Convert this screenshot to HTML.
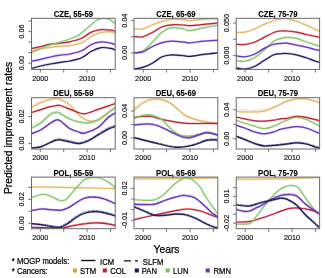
<!DOCTYPE html>
<html><head><meta charset="utf-8"><style>
html,body{margin:0;padding:0;background:#fff;width:325px;height:278px;overflow:hidden}
svg{display:block;font-family:"Liberation Sans",sans-serif;will-change:transform}
</style></head><body>
<svg width="325" height="278" viewBox="0 0 325 278">

<clipPath id="c00"><rect x="31.50" y="18.30" width="83.70" height="51.10"/></clipPath>
<g clip-path="url(#c00)" fill="none" stroke-width="1.5" stroke-linejoin="round" stroke-linecap="round">
<path d="M31.00,51.00 C32.62,50.63 37.47,49.42 40.70,48.80 C43.93,48.18 47.17,47.73 50.40,47.30 C53.63,46.87 56.87,46.48 60.10,46.20 C63.33,45.92 66.20,46.17 69.80,45.60 C73.40,45.03 78.10,44.37 81.70,42.80 C85.30,41.23 88.18,37.92 91.40,36.20 C94.62,34.48 97.77,33.23 101.00,32.50 C104.23,31.77 108.30,31.63 110.80,31.80 C113.30,31.97 115.13,33.22 116.00,33.50" stroke="#D8A53C" stroke-width="2.3" opacity="0.28"/>
<path d="M31.00,51.00 C32.62,50.63 37.47,49.42 40.70,48.80 C43.93,48.18 47.17,47.73 50.40,47.30 C53.63,46.87 56.87,46.48 60.10,46.20 C63.33,45.92 66.20,46.17 69.80,45.60 C73.40,45.03 78.10,44.37 81.70,42.80 C85.30,41.23 88.18,37.92 91.40,36.20 C94.62,34.48 97.77,33.23 101.00,32.50 C104.23,31.77 108.30,31.63 110.80,31.80 C113.30,31.97 115.13,33.22 116.00,33.50" stroke="#E4BC6C" stroke-width="1.2"/>
<path d="M31.00,48.60 C32.62,48.25 37.47,47.23 40.70,46.50 C43.93,45.77 47.17,44.75 50.40,44.20 C53.63,43.65 56.87,43.60 60.10,43.20 C63.33,42.80 66.20,42.62 69.80,41.80 C73.40,40.98 78.10,39.92 81.70,38.30 C85.30,36.68 88.18,33.55 91.40,32.10 C94.62,30.65 97.77,29.92 101.00,29.60 C104.23,29.28 108.30,29.88 110.80,30.20 C113.30,30.52 115.13,31.28 116.00,31.50" stroke="#C41E3A" stroke-width="2.3" opacity="0.28"/>
<path d="M31.00,48.60 C32.62,48.25 37.47,47.23 40.70,46.50 C43.93,45.77 47.17,44.75 50.40,44.20 C53.63,43.65 56.87,43.60 60.10,43.20 C63.33,42.80 66.20,42.62 69.80,41.80 C73.40,40.98 78.10,39.92 81.70,38.30 C85.30,36.68 88.18,33.55 91.40,32.10 C94.62,30.65 97.77,29.92 101.00,29.60 C104.23,29.28 108.30,29.88 110.80,30.20 C113.30,30.52 115.13,31.28 116.00,31.50" stroke="#B82434" stroke-width="1.2"/>
<path d="M31.00,52.90 C32.62,52.15 37.47,49.75 40.70,48.40 C43.93,47.05 47.17,45.87 50.40,44.80 C53.63,43.73 56.87,42.97 60.10,42.00 C63.33,41.03 66.82,40.08 69.80,39.00 C72.78,37.92 75.47,37.00 78.00,35.50 C80.53,34.00 82.77,31.83 85.00,30.00 C87.23,28.17 89.40,26.17 91.40,24.50 C93.40,22.83 95.07,21.02 97.00,20.00 C98.93,18.98 101.17,18.60 103.00,18.40 C104.83,18.20 106.50,18.37 108.00,18.80 C109.50,19.23 110.67,20.13 112.00,21.00 C113.33,21.87 115.33,23.50 116.00,24.00" stroke="#7FBF5F" stroke-width="2.3" opacity="0.28"/>
<path d="M31.00,52.90 C32.62,52.15 37.47,49.75 40.70,48.40 C43.93,47.05 47.17,45.87 50.40,44.80 C53.63,43.73 56.87,42.97 60.10,42.00 C63.33,41.03 66.82,40.08 69.80,39.00 C72.78,37.92 75.47,37.00 78.00,35.50 C80.53,34.00 82.77,31.83 85.00,30.00 C87.23,28.17 89.40,26.17 91.40,24.50 C93.40,22.83 95.07,21.02 97.00,20.00 C98.93,18.98 101.17,18.60 103.00,18.40 C104.83,18.20 106.50,18.37 108.00,18.80 C109.50,19.23 110.67,20.13 112.00,21.00 C113.33,21.87 115.33,23.50 116.00,24.00" stroke="#86C86E" stroke-width="1.2"/>
<path d="M31.00,61.20 C32.62,60.88 37.47,60.00 40.70,59.30 C43.93,58.60 47.17,57.68 50.40,57.00 C53.63,56.32 56.87,55.70 60.10,55.20 C63.33,54.70 66.20,54.73 69.80,54.00 C73.40,53.27 78.10,52.38 81.70,50.80 C85.30,49.22 88.18,46.00 91.40,44.50 C94.62,43.00 97.77,42.02 101.00,41.80 C104.23,41.58 108.30,42.65 110.80,43.20 C113.30,43.75 115.13,44.78 116.00,45.10" stroke="#7030C0" stroke-width="2.3" opacity="0.28"/>
<path d="M31.00,61.20 C32.62,60.88 37.47,60.00 40.70,59.30 C43.93,58.60 47.17,57.68 50.40,57.00 C53.63,56.32 56.87,55.70 60.10,55.20 C63.33,54.70 66.20,54.73 69.80,54.00 C73.40,53.27 78.10,52.38 81.70,50.80 C85.30,49.22 88.18,46.00 91.40,44.50 C94.62,43.00 97.77,42.02 101.00,41.80 C104.23,41.58 108.30,42.65 110.80,43.20 C113.30,43.75 115.13,44.78 116.00,45.10" stroke="#6A36BE" stroke-width="1.2"/>
<path d="M31.00,68.60 C32.62,68.17 37.47,66.77 40.70,66.00 C43.93,65.23 47.17,64.60 50.40,64.00 C53.63,63.40 56.87,62.90 60.10,62.40 C63.33,61.90 66.20,61.77 69.80,61.00 C73.40,60.23 78.10,59.43 81.70,57.80 C85.30,56.17 88.18,52.90 91.40,51.20 C94.62,49.50 97.77,48.07 101.00,47.60 C104.23,47.13 108.30,47.93 110.80,48.40 C113.30,48.87 115.13,50.07 116.00,50.40" stroke="#1A1A6E" stroke-width="2.3" opacity="0.28"/>
<path d="M31.00,68.60 C32.62,68.17 37.47,66.77 40.70,66.00 C43.93,65.23 47.17,64.60 50.40,64.00 C53.63,63.40 56.87,62.90 60.10,62.40 C63.33,61.90 66.20,61.77 69.80,61.00 C73.40,60.23 78.10,59.43 81.70,57.80 C85.30,56.17 88.18,52.90 91.40,51.20 C94.62,49.50 97.77,48.07 101.00,47.60 C104.23,47.13 108.30,47.93 110.80,48.40 C113.30,48.87 115.13,50.07 116.00,50.40" stroke="#1C1C5A" stroke-width="1.2"/>
</g>
<rect x="31.50" y="18.30" width="83.70" height="51.10" fill="none" stroke="#6a6a6a" stroke-width="1"/>
<line x1="40.30" y1="69.40" x2="40.30" y2="72.60" stroke="#555" stroke-width="0.8"/>
<line x1="63.70" y1="69.40" x2="63.70" y2="72.60" stroke="#555" stroke-width="0.8"/>
<line x1="87.10" y1="69.40" x2="87.10" y2="72.60" stroke="#555" stroke-width="0.8"/>
<line x1="110.50" y1="69.40" x2="110.50" y2="72.60" stroke="#555" stroke-width="0.8"/>
<text x="40.30" y="80.70" font-size="7.3" text-anchor="middle" fill="#111" stroke="#111" stroke-width="0.15">2000</text>
<text x="87.10" y="80.70" font-size="7.3" text-anchor="middle" fill="#111" stroke="#111" stroke-width="0.15">2010</text>
<line x1="28.30" y1="21.00" x2="31.50" y2="21.00" stroke="#555" stroke-width="0.8"/>
<line x1="28.30" y1="31.60" x2="31.50" y2="31.60" stroke="#555" stroke-width="0.8"/>
<line x1="28.30" y1="42.10" x2="31.50" y2="42.10" stroke="#555" stroke-width="0.8"/>
<line x1="28.30" y1="52.60" x2="31.50" y2="52.60" stroke="#555" stroke-width="0.8"/>
<line x1="28.30" y1="63.10" x2="31.50" y2="63.10" stroke="#555" stroke-width="0.8"/>
<text x="0" y="0" transform="translate(24.00,31.60) rotate(-90)" font-size="7.3" text-anchor="middle" fill="#111" stroke="#111" stroke-width="0.15">0.06</text>
<text x="0" y="0" transform="translate(24.00,63.10) rotate(-90)" font-size="7.3" text-anchor="middle" fill="#111" stroke="#111" stroke-width="0.15">0.00</text>
<text transform="translate(73.35,16.70) scale(1,1.15)" font-size="7.7" font-weight="bold" text-anchor="middle" fill="#000" stroke="#000" stroke-width="0.12">CZE, 55-59</text>
<clipPath id="c01"><rect x="134.00" y="18.30" width="83.80" height="51.10"/></clipPath>
<g clip-path="url(#c01)" fill="none" stroke-width="1.5" stroke-linejoin="round" stroke-linecap="round">
<path d="M133.60,28.60 C135.12,28.67 139.57,29.63 142.70,29.00 C145.83,28.37 149.17,26.08 152.40,24.80 C155.63,23.52 158.87,22.22 162.10,21.30 C165.33,20.38 168.03,19.53 171.80,19.30 C175.57,19.07 181.75,19.70 184.70,19.90 C187.65,20.10 186.28,20.60 189.50,20.50 C192.72,20.40 199.25,19.62 204.00,19.30 C208.75,18.98 215.67,18.72 218.00,18.60" stroke="#D8A53C" stroke-width="2.3" opacity="0.28"/>
<path d="M133.60,28.60 C135.12,28.67 139.57,29.63 142.70,29.00 C145.83,28.37 149.17,26.08 152.40,24.80 C155.63,23.52 158.87,22.22 162.10,21.30 C165.33,20.38 168.03,19.53 171.80,19.30 C175.57,19.07 181.75,19.70 184.70,19.90 C187.65,20.10 186.28,20.60 189.50,20.50 C192.72,20.40 199.25,19.62 204.00,19.30 C208.75,18.98 215.67,18.72 218.00,18.60" stroke="#E4BC6C" stroke-width="1.2"/>
<path d="M133.60,36.40 C135.12,36.47 139.57,37.45 142.70,36.80 C145.83,36.15 149.17,34.18 152.40,32.50 C155.63,30.82 158.87,27.98 162.10,26.70 C165.33,25.42 168.03,25.07 171.80,24.80 C175.57,24.53 181.75,24.95 184.70,25.10 C187.65,25.25 186.28,25.82 189.50,25.70 C192.72,25.58 199.25,24.88 204.00,24.40 C208.75,23.92 215.67,23.07 218.00,22.80" stroke="#C41E3A" stroke-width="2.3" opacity="0.28"/>
<path d="M133.60,36.40 C135.12,36.47 139.57,37.45 142.70,36.80 C145.83,36.15 149.17,34.18 152.40,32.50 C155.63,30.82 158.87,27.98 162.10,26.70 C165.33,25.42 168.03,25.07 171.80,24.80 C175.57,24.53 181.75,24.95 184.70,25.10 C187.65,25.25 186.28,25.82 189.50,25.70 C192.72,25.58 199.25,24.88 204.00,24.40 C208.75,23.92 215.67,23.07 218.00,22.80" stroke="#B82434" stroke-width="1.2"/>
<path d="M133.60,53.00 C135.12,52.67 139.57,52.80 142.70,51.00 C145.83,49.20 149.17,45.35 152.40,42.20 C155.63,39.05 158.87,34.52 162.10,32.10 C165.33,29.68 168.03,28.22 171.80,27.70 C175.57,27.18 181.75,28.52 184.70,29.00 C187.65,29.48 186.28,30.82 189.50,30.60 C192.72,30.38 199.25,28.62 204.00,27.70 C208.75,26.78 215.67,25.53 218.00,25.10" stroke="#7FBF5F" stroke-width="2.3" opacity="0.28"/>
<path d="M133.60,53.00 C135.12,52.67 139.57,52.80 142.70,51.00 C145.83,49.20 149.17,45.35 152.40,42.20 C155.63,39.05 158.87,34.52 162.10,32.10 C165.33,29.68 168.03,28.22 171.80,27.70 C175.57,27.18 181.75,28.52 184.70,29.00 C187.65,29.48 186.28,30.82 189.50,30.60 C192.72,30.38 199.25,28.62 204.00,27.70 C208.75,26.78 215.67,25.53 218.00,25.10" stroke="#86C86E" stroke-width="1.2"/>
<path d="M133.60,52.90 C135.12,52.73 139.57,52.97 142.70,51.90 C145.83,50.83 149.17,48.05 152.40,46.50 C155.63,44.95 158.87,43.48 162.10,42.60 C165.33,41.72 168.03,41.27 171.80,41.20 C175.57,41.13 181.75,41.93 184.70,42.20 C187.65,42.47 186.28,42.97 189.50,42.80 C192.72,42.63 199.25,41.62 204.00,41.20 C208.75,40.78 215.67,40.45 218.00,40.30" stroke="#7030C0" stroke-width="2.3" opacity="0.28"/>
<path d="M133.60,52.90 C135.12,52.73 139.57,52.97 142.70,51.90 C145.83,50.83 149.17,48.05 152.40,46.50 C155.63,44.95 158.87,43.48 162.10,42.60 C165.33,41.72 168.03,41.27 171.80,41.20 C175.57,41.13 181.75,41.93 184.70,42.20 C187.65,42.47 186.28,42.97 189.50,42.80 C192.72,42.63 199.25,41.62 204.00,41.20 C208.75,40.78 215.67,40.45 218.00,40.30" stroke="#6A36BE" stroke-width="1.2"/>
<path d="M133.60,69.00 C135.12,68.73 139.57,68.37 142.70,67.40 C145.83,66.43 149.17,64.97 152.40,63.20 C155.63,61.43 158.87,58.20 162.10,56.80 C165.33,55.40 168.03,54.97 171.80,54.80 C175.57,54.63 181.75,55.53 184.70,55.80 C187.65,56.07 186.28,56.63 189.50,56.40 C192.72,56.17 199.25,54.98 204.00,54.40 C208.75,53.82 215.67,53.15 218.00,52.90" stroke="#1A1A6E" stroke-width="2.3" opacity="0.28"/>
<path d="M133.60,69.00 C135.12,68.73 139.57,68.37 142.70,67.40 C145.83,66.43 149.17,64.97 152.40,63.20 C155.63,61.43 158.87,58.20 162.10,56.80 C165.33,55.40 168.03,54.97 171.80,54.80 C175.57,54.63 181.75,55.53 184.70,55.80 C187.65,56.07 186.28,56.63 189.50,56.40 C192.72,56.17 199.25,54.98 204.00,54.40 C208.75,53.82 215.67,53.15 218.00,52.90" stroke="#1C1C5A" stroke-width="1.2"/>
</g>
<rect x="134.00" y="18.30" width="83.80" height="51.10" fill="none" stroke="#6a6a6a" stroke-width="1"/>
<line x1="143.20" y1="69.40" x2="143.20" y2="72.60" stroke="#555" stroke-width="0.8"/>
<line x1="166.60" y1="69.40" x2="166.60" y2="72.60" stroke="#555" stroke-width="0.8"/>
<line x1="190.00" y1="69.40" x2="190.00" y2="72.60" stroke="#555" stroke-width="0.8"/>
<line x1="213.40" y1="69.40" x2="213.40" y2="72.60" stroke="#555" stroke-width="0.8"/>
<text x="143.20" y="80.70" font-size="7.3" text-anchor="middle" fill="#111" stroke="#111" stroke-width="0.15">2000</text>
<text x="190.00" y="80.70" font-size="7.3" text-anchor="middle" fill="#111" stroke="#111" stroke-width="0.15">2010</text>
<line x1="130.80" y1="20.70" x2="134.00" y2="20.70" stroke="#555" stroke-width="0.8"/>
<line x1="130.80" y1="36.80" x2="134.00" y2="36.80" stroke="#555" stroke-width="0.8"/>
<line x1="130.80" y1="52.90" x2="134.00" y2="52.90" stroke="#555" stroke-width="0.8"/>
<text x="0" y="0" transform="translate(126.50,20.70) rotate(-90)" font-size="7.3" text-anchor="middle" fill="#111" stroke="#111" stroke-width="0.15">0.04</text>
<text x="0" y="0" transform="translate(126.50,52.90) rotate(-90)" font-size="7.3" text-anchor="middle" fill="#111" stroke="#111" stroke-width="0.15">0.00</text>
<text transform="translate(175.90,16.70) scale(1,1.15)" font-size="7.7" font-weight="bold" text-anchor="middle" fill="#000" stroke="#000" stroke-width="0.12">CZE, 65-69</text>
<clipPath id="c02"><rect x="236.20" y="18.30" width="83.40" height="51.10"/></clipPath>
<g clip-path="url(#c02)" fill="none" stroke-width="1.5" stroke-linejoin="round" stroke-linecap="round">
<path d="M236.00,32.50 C237.45,32.43 241.63,32.68 244.70,32.10 C247.77,31.52 251.17,30.28 254.40,29.00 C257.63,27.72 260.87,25.82 264.10,24.40 C267.33,22.98 271.15,21.42 273.80,20.50 C276.45,19.58 277.85,19.22 280.00,18.90 C282.15,18.58 283.97,18.20 286.70,18.60 C289.43,19.00 293.17,20.22 296.40,21.30 C299.63,22.38 302.87,23.72 306.10,25.10 C309.33,26.48 313.48,28.53 315.80,29.60 C318.12,30.67 319.30,31.18 320.00,31.50" stroke="#D8A53C" stroke-width="2.3" opacity="0.28"/>
<path d="M236.00,32.50 C237.45,32.43 241.63,32.68 244.70,32.10 C247.77,31.52 251.17,30.28 254.40,29.00 C257.63,27.72 260.87,25.82 264.10,24.40 C267.33,22.98 271.15,21.42 273.80,20.50 C276.45,19.58 277.85,19.22 280.00,18.90 C282.15,18.58 283.97,18.20 286.70,18.60 C289.43,19.00 293.17,20.22 296.40,21.30 C299.63,22.38 302.87,23.72 306.10,25.10 C309.33,26.48 313.48,28.53 315.80,29.60 C318.12,30.67 319.30,31.18 320.00,31.50" stroke="#E4BC6C" stroke-width="1.2"/>
<path d="M236.00,44.20 C237.45,44.25 241.63,44.83 244.70,44.50 C247.77,44.17 251.17,43.38 254.40,42.20 C257.63,41.02 260.87,39.02 264.10,37.40 C267.33,35.78 271.15,33.57 273.80,32.50 C276.45,31.43 277.85,31.25 280.00,31.00 C282.15,30.75 283.97,30.82 286.70,31.00 C289.43,31.18 293.17,31.52 296.40,32.10 C299.63,32.68 302.87,33.78 306.10,34.50 C309.33,35.22 313.48,35.92 315.80,36.40 C318.12,36.88 319.30,37.23 320.00,37.40" stroke="#C41E3A" stroke-width="2.3" opacity="0.28"/>
<path d="M236.00,44.20 C237.45,44.25 241.63,44.83 244.70,44.50 C247.77,44.17 251.17,43.38 254.40,42.20 C257.63,41.02 260.87,39.02 264.10,37.40 C267.33,35.78 271.15,33.57 273.80,32.50 C276.45,31.43 277.85,31.25 280.00,31.00 C282.15,30.75 283.97,30.82 286.70,31.00 C289.43,31.18 293.17,31.52 296.40,32.10 C299.63,32.68 302.87,33.78 306.10,34.50 C309.33,35.22 313.48,35.92 315.80,36.40 C318.12,36.88 319.30,37.23 320.00,37.40" stroke="#B82434" stroke-width="1.2"/>
<path d="M236.00,60.60 C237.45,60.70 241.63,61.68 244.70,61.20 C247.77,60.72 251.17,59.57 254.40,57.70 C257.63,55.83 260.87,52.75 264.10,50.00 C267.33,47.25 271.15,43.08 273.80,41.20 C276.45,39.32 277.85,39.33 280.00,38.70 C282.15,38.07 283.97,37.47 286.70,37.40 C289.43,37.33 293.17,37.57 296.40,38.30 C299.63,39.03 302.87,40.67 306.10,41.80 C309.33,42.93 313.48,44.38 315.80,45.10 C318.12,45.82 319.30,45.93 320.00,46.10" stroke="#7FBF5F" stroke-width="2.3" opacity="0.28"/>
<path d="M236.00,60.60 C237.45,60.70 241.63,61.68 244.70,61.20 C247.77,60.72 251.17,59.57 254.40,57.70 C257.63,55.83 260.87,52.75 264.10,50.00 C267.33,47.25 271.15,43.08 273.80,41.20 C276.45,39.32 277.85,39.33 280.00,38.70 C282.15,38.07 283.97,37.47 286.70,37.40 C289.43,37.33 293.17,37.57 296.40,38.30 C299.63,39.03 302.87,40.67 306.10,41.80 C309.33,42.93 313.48,44.38 315.80,45.10 C318.12,45.82 319.30,45.93 320.00,46.10" stroke="#86C86E" stroke-width="1.2"/>
<path d="M236.00,55.80 C237.45,55.97 241.63,57.07 244.70,56.80 C247.77,56.53 251.17,55.60 254.40,54.20 C257.63,52.80 260.87,50.07 264.10,48.40 C267.33,46.73 271.15,45.02 273.80,44.20 C276.45,43.38 277.85,43.67 280.00,43.50 C282.15,43.33 283.97,42.93 286.70,43.20 C289.43,43.47 293.17,44.45 296.40,45.10 C299.63,45.75 302.87,46.35 306.10,47.10 C309.33,47.85 313.48,49.05 315.80,49.60 C318.12,50.15 319.30,50.27 320.00,50.40" stroke="#7030C0" stroke-width="2.3" opacity="0.28"/>
<path d="M236.00,55.80 C237.45,55.97 241.63,57.07 244.70,56.80 C247.77,56.53 251.17,55.60 254.40,54.20 C257.63,52.80 260.87,50.07 264.10,48.40 C267.33,46.73 271.15,45.02 273.80,44.20 C276.45,43.38 277.85,43.67 280.00,43.50 C282.15,43.33 283.97,42.93 286.70,43.20 C289.43,43.47 293.17,44.45 296.40,45.10 C299.63,45.75 302.87,46.35 306.10,47.10 C309.33,47.85 313.48,49.05 315.80,49.60 C318.12,50.15 319.30,50.27 320.00,50.40" stroke="#6A36BE" stroke-width="1.2"/>
<path d="M236.00,67.80 C237.45,68.00 241.63,69.22 244.70,69.00 C247.77,68.78 251.17,67.90 254.40,66.50 C257.63,65.10 260.87,62.55 264.10,60.60 C267.33,58.65 271.15,55.93 273.80,54.80 C276.45,53.67 277.85,54.02 280.00,53.80 C282.15,53.58 283.97,53.33 286.70,53.50 C289.43,53.67 293.17,54.10 296.40,54.80 C299.63,55.50 302.87,56.63 306.10,57.70 C309.33,58.77 313.48,60.38 315.80,61.20 C318.12,62.02 319.30,62.37 320.00,62.60" stroke="#1A1A6E" stroke-width="2.3" opacity="0.28"/>
<path d="M236.00,67.80 C237.45,68.00 241.63,69.22 244.70,69.00 C247.77,68.78 251.17,67.90 254.40,66.50 C257.63,65.10 260.87,62.55 264.10,60.60 C267.33,58.65 271.15,55.93 273.80,54.80 C276.45,53.67 277.85,54.02 280.00,53.80 C282.15,53.58 283.97,53.33 286.70,53.50 C289.43,53.67 293.17,54.10 296.40,54.80 C299.63,55.50 302.87,56.63 306.10,57.70 C309.33,58.77 313.48,60.38 315.80,61.20 C318.12,62.02 319.30,62.37 320.00,62.60" stroke="#1C1C5A" stroke-width="1.2"/>
</g>
<rect x="236.20" y="18.30" width="83.40" height="51.10" fill="none" stroke="#6a6a6a" stroke-width="1"/>
<line x1="245.20" y1="69.40" x2="245.20" y2="72.60" stroke="#555" stroke-width="0.8"/>
<line x1="268.60" y1="69.40" x2="268.60" y2="72.60" stroke="#555" stroke-width="0.8"/>
<line x1="292.00" y1="69.40" x2="292.00" y2="72.60" stroke="#555" stroke-width="0.8"/>
<line x1="315.40" y1="69.40" x2="315.40" y2="72.60" stroke="#555" stroke-width="0.8"/>
<text x="245.20" y="80.70" font-size="7.3" text-anchor="middle" fill="#111" stroke="#111" stroke-width="0.15">2000</text>
<text x="292.00" y="80.70" font-size="7.3" text-anchor="middle" fill="#111" stroke="#111" stroke-width="0.15">2010</text>
<line x1="233.00" y1="23.00" x2="236.20" y2="23.00" stroke="#555" stroke-width="0.8"/>
<line x1="233.00" y1="39.30" x2="236.20" y2="39.30" stroke="#555" stroke-width="0.8"/>
<line x1="233.00" y1="55.60" x2="236.20" y2="55.60" stroke="#555" stroke-width="0.8"/>
<text x="0" y="0" transform="translate(228.70,23.00) rotate(-90)" font-size="7.3" text-anchor="middle" fill="#111" stroke="#111" stroke-width="0.15">0.050</text>
<text x="0" y="0" transform="translate(228.70,55.60) rotate(-90)" font-size="7.3" text-anchor="middle" fill="#111" stroke="#111" stroke-width="0.15">0.000</text>
<text transform="translate(277.90,16.70) scale(1,1.15)" font-size="7.7" font-weight="bold" text-anchor="middle" fill="#000" stroke="#000" stroke-width="0.12">CZE, 75-79</text>
<clipPath id="c10"><rect x="31.50" y="97.70" width="83.70" height="51.30"/></clipPath>
<g clip-path="url(#c10)" fill="none" stroke-width="1.5" stroke-linejoin="round" stroke-linecap="round">
<path d="M31.50,107.60 C33.03,106.80 37.55,104.15 40.70,102.80 C43.85,101.45 47.82,100.25 50.40,99.50 C52.98,98.75 54.58,98.30 56.20,98.30 C57.82,98.30 57.88,98.45 60.10,99.50 C62.32,100.55 66.35,102.00 69.50,104.60 C72.65,107.20 75.82,112.40 79.00,115.10 C82.18,117.80 85.42,120.00 88.60,120.80 C91.78,121.60 94.93,121.17 98.10,119.90 C101.27,118.63 104.70,115.35 107.60,113.20 C110.50,111.05 114.18,108.03 115.50,107.00" stroke="#D8A53C" stroke-width="2.3" opacity="0.28"/>
<path d="M31.50,107.60 C33.03,106.80 37.55,104.15 40.70,102.80 C43.85,101.45 47.82,100.25 50.40,99.50 C52.98,98.75 54.58,98.30 56.20,98.30 C57.82,98.30 57.88,98.45 60.10,99.50 C62.32,100.55 66.35,102.00 69.50,104.60 C72.65,107.20 75.82,112.40 79.00,115.10 C82.18,117.80 85.42,120.00 88.60,120.80 C91.78,121.60 94.93,121.17 98.10,119.90 C101.27,118.63 104.70,115.35 107.60,113.20 C110.50,111.05 114.18,108.03 115.50,107.00" stroke="#E4BC6C" stroke-width="1.2"/>
<path d="M31.50,105.62 C33.03,104.88 37.55,102.42 40.70,101.20 C43.85,99.98 47.82,98.95 50.40,98.30 C52.98,97.66 54.58,97.28 56.20,97.34 C57.82,97.41 57.88,97.55 60.10,98.70 C62.32,99.85 66.35,101.50 69.50,104.24 C72.65,106.99 75.82,112.34 79.00,115.19 C82.18,118.04 85.42,120.48 88.60,121.33 C91.78,122.19 94.93,121.64 98.10,120.31 C101.27,118.99 104.70,115.61 107.60,113.39 C110.50,111.18 114.18,108.08 115.50,107.01" stroke="#E4BC6C" stroke-width="0.9" stroke-dasharray="3,1.6" opacity="0.6"/>
<path d="M31.50,112.50 C33.03,112.02 37.55,110.57 40.70,109.60 C43.85,108.63 47.82,107.35 50.40,106.70 C52.98,106.05 54.58,105.90 56.20,105.70 C57.82,105.50 56.93,104.57 60.10,105.50 C63.27,106.43 71.08,109.92 75.20,111.30 C79.32,112.68 80.98,114.12 84.80,113.80 C88.62,113.48 92.98,111.12 98.10,109.40 C103.22,107.68 112.60,104.48 115.50,103.50" stroke="#C41E3A" stroke-width="2.3" opacity="0.28"/>
<path d="M31.50,112.50 C33.03,112.02 37.55,110.57 40.70,109.60 C43.85,108.63 47.82,107.35 50.40,106.70 C52.98,106.05 54.58,105.90 56.20,105.70 C57.82,105.50 56.93,104.57 60.10,105.50 C63.27,106.43 71.08,109.92 75.20,111.30 C79.32,112.68 80.98,114.12 84.80,113.80 C88.62,113.48 92.98,111.12 98.10,109.40 C103.22,107.68 112.60,104.48 115.50,103.50" stroke="#B82434" stroke-width="1.2"/>
<path d="M31.50,128.00 C33.03,127.20 37.55,125.47 40.70,123.20 C43.85,120.93 47.82,116.18 50.40,114.40 C52.98,112.62 54.58,112.65 56.20,112.50 C57.82,112.35 57.88,112.42 60.10,113.50 C62.32,114.58 66.35,117.58 69.50,119.00 C72.65,120.42 75.82,121.33 79.00,122.00 C82.18,122.67 85.43,123.33 88.60,123.00 C91.77,122.67 94.83,121.67 98.00,120.00 C101.17,118.33 104.68,115.00 107.60,113.00 C110.52,111.00 114.18,108.83 115.50,108.00" stroke="#7FBF5F" stroke-width="2.3" opacity="0.28"/>
<path d="M31.50,128.00 C33.03,127.20 37.55,125.47 40.70,123.20 C43.85,120.93 47.82,116.18 50.40,114.40 C52.98,112.62 54.58,112.65 56.20,112.50 C57.82,112.35 57.88,112.42 60.10,113.50 C62.32,114.58 66.35,117.58 69.50,119.00 C72.65,120.42 75.82,121.33 79.00,122.00 C82.18,122.67 85.43,123.33 88.60,123.00 C91.77,122.67 94.83,121.67 98.00,120.00 C101.17,118.33 104.68,115.00 107.60,113.00 C110.52,111.00 114.18,108.83 115.50,108.00" stroke="#86C86E" stroke-width="1.2"/>
<path d="M31.50,125.82 C33.03,125.08 37.55,123.54 40.70,121.40 C43.85,119.27 47.82,114.68 50.40,113.00 C52.98,111.33 54.58,111.43 56.20,111.34 C57.82,111.26 57.88,111.36 60.10,112.50 C62.32,113.64 66.35,116.70 69.50,118.17 C72.65,119.64 75.82,120.62 79.00,121.34 C82.18,122.06 85.43,122.79 88.60,122.51 C91.77,122.23 94.83,121.29 98.00,119.68 C101.17,118.07 104.68,114.80 107.60,112.85 C110.52,110.90 114.18,108.80 115.50,107.99" stroke="#86C86E" stroke-width="0.9" stroke-dasharray="3,1.6" opacity="0.6"/>
<path d="M31.50,133.80 C33.03,133.17 37.55,131.77 40.70,130.00 C43.85,128.23 47.82,124.83 50.40,123.20 C52.98,121.57 54.58,120.60 56.20,120.20 C57.82,119.80 57.88,119.43 60.10,120.80 C62.32,122.17 66.35,126.50 69.50,128.40 C72.65,130.30 76.45,131.40 79.00,132.20 C81.55,133.00 81.62,133.98 84.80,133.20 C87.98,132.42 94.30,130.03 98.10,127.50 C101.90,124.97 104.70,120.42 107.60,118.00 C110.50,115.58 114.18,113.83 115.50,113.00" stroke="#7030C0" stroke-width="2.3" opacity="0.28"/>
<path d="M31.50,133.80 C33.03,133.17 37.55,131.77 40.70,130.00 C43.85,128.23 47.82,124.83 50.40,123.20 C52.98,121.57 54.58,120.60 56.20,120.20 C57.82,119.80 57.88,119.43 60.10,120.80 C62.32,122.17 66.35,126.50 69.50,128.40 C72.65,130.30 76.45,131.40 79.00,132.20 C81.55,133.00 81.62,133.98 84.80,133.20 C87.98,132.42 94.30,130.03 98.10,127.50 C101.90,124.97 104.70,120.42 107.60,118.00 C110.50,115.58 114.18,113.83 115.50,113.00" stroke="#6A36BE" stroke-width="1.2"/>
<path d="M31.50,133.20 C33.03,132.57 37.55,131.17 40.70,129.40 C43.85,127.63 47.82,124.23 50.40,122.60 C52.98,120.97 54.58,120.00 56.20,119.60 C57.82,119.20 57.88,118.83 60.10,120.20 C62.32,121.57 66.35,125.90 69.50,127.80 C72.65,129.70 76.45,130.80 79.00,131.60 C81.55,132.40 81.62,133.38 84.80,132.60 C87.98,131.82 94.30,129.43 98.10,126.90 C101.90,124.37 104.70,119.82 107.60,117.40 C110.50,114.98 114.18,113.23 115.50,112.40" stroke="#6A36BE" stroke-width="0.9" stroke-dasharray="3,1.6" opacity="0.6"/>
<path d="M31.50,148.00 C33.03,147.80 37.55,147.72 40.70,146.80 C43.85,145.88 47.82,143.60 50.40,142.50 C52.98,141.40 54.58,140.63 56.20,140.20 C57.82,139.77 57.88,139.63 60.10,139.90 C62.32,140.17 66.35,141.17 69.50,141.80 C72.65,142.43 75.82,143.87 79.00,143.70 C82.18,143.53 85.42,142.23 88.60,140.80 C91.78,139.37 94.93,137.00 98.10,135.10 C101.27,133.20 104.70,130.87 107.60,129.40 C110.50,127.93 114.18,126.82 115.50,126.30" stroke="#1A1A6E" stroke-width="2.3" opacity="0.28"/>
<path d="M31.50,148.00 C33.03,147.80 37.55,147.72 40.70,146.80 C43.85,145.88 47.82,143.60 50.40,142.50 C52.98,141.40 54.58,140.63 56.20,140.20 C57.82,139.77 57.88,139.63 60.10,139.90 C62.32,140.17 66.35,141.17 69.50,141.80 C72.65,142.43 75.82,143.87 79.00,143.70 C82.18,143.53 85.42,142.23 88.60,140.80 C91.78,139.37 94.93,137.00 98.10,135.10 C101.27,133.20 104.70,130.87 107.60,129.40 C110.50,127.93 114.18,126.82 115.50,126.30" stroke="#1C1C5A" stroke-width="1.2"/>
<path d="M31.50,147.98 C33.03,147.73 37.55,147.50 40.70,146.48 C43.85,145.46 47.82,143.04 50.40,141.85 C52.98,140.67 54.58,139.85 56.20,139.36 C57.82,138.87 57.88,138.74 60.10,138.93 C62.32,139.12 66.35,139.94 69.50,140.52 C72.65,141.09 75.82,142.57 79.00,142.40 C82.18,142.23 85.42,140.93 88.60,139.50 C91.78,138.07 94.93,135.70 98.10,133.80 C101.27,131.90 104.70,129.57 107.60,128.10 C110.50,126.63 114.18,125.52 115.50,125.00" stroke="#1C1C5A" stroke-width="0.9" stroke-dasharray="3,1.6" opacity="0.6"/>
</g>
<rect x="31.50" y="97.70" width="83.70" height="51.30" fill="none" stroke="#6a6a6a" stroke-width="1"/>
<line x1="40.30" y1="149.00" x2="40.30" y2="152.20" stroke="#555" stroke-width="0.8"/>
<line x1="63.70" y1="149.00" x2="63.70" y2="152.20" stroke="#555" stroke-width="0.8"/>
<line x1="87.10" y1="149.00" x2="87.10" y2="152.20" stroke="#555" stroke-width="0.8"/>
<line x1="110.50" y1="149.00" x2="110.50" y2="152.20" stroke="#555" stroke-width="0.8"/>
<text x="40.30" y="160.30" font-size="7.3" text-anchor="middle" fill="#111" stroke="#111" stroke-width="0.15">2000</text>
<text x="87.10" y="160.30" font-size="7.3" text-anchor="middle" fill="#111" stroke="#111" stroke-width="0.15">2010</text>
<line x1="28.30" y1="116.50" x2="31.50" y2="116.50" stroke="#555" stroke-width="0.8"/>
<line x1="28.30" y1="143.60" x2="31.50" y2="143.60" stroke="#555" stroke-width="0.8"/>
<text x="0" y="0" transform="translate(24.00,116.50) rotate(-90)" font-size="7.3" text-anchor="middle" fill="#111" stroke="#111" stroke-width="0.15">0.02</text>
<text x="0" y="0" transform="translate(24.00,143.60) rotate(-90)" font-size="7.3" text-anchor="middle" fill="#111" stroke="#111" stroke-width="0.15">0.00</text>
<text transform="translate(73.35,96.10) scale(1,1.15)" font-size="7.7" font-weight="bold" text-anchor="middle" fill="#000" stroke="#000" stroke-width="0.12">DEU, 55-59</text>
<clipPath id="c11"><rect x="134.00" y="97.70" width="83.80" height="51.30"/></clipPath>
<g clip-path="url(#c11)" fill="none" stroke-width="1.5" stroke-linejoin="round" stroke-linecap="round">
<path d="M133.60,110.50 C135.17,109.25 139.93,104.87 143.00,103.00 C146.07,101.13 149.17,99.88 152.00,99.30 C154.83,98.72 157.00,98.88 160.00,99.50 C163.00,100.12 167.00,101.32 170.00,103.00 C173.00,104.68 175.25,107.42 178.00,109.60 C180.75,111.78 182.40,114.13 186.50,116.10 C190.60,118.07 197.18,120.07 202.60,121.40 C208.02,122.73 216.27,123.65 219.00,124.10" stroke="#D8A53C" stroke-width="2.3" opacity="0.28"/>
<path d="M133.60,110.50 C135.17,109.25 139.93,104.87 143.00,103.00 C146.07,101.13 149.17,99.88 152.00,99.30 C154.83,98.72 157.00,98.88 160.00,99.50 C163.00,100.12 167.00,101.32 170.00,103.00 C173.00,104.68 175.25,107.42 178.00,109.60 C180.75,111.78 182.40,114.13 186.50,116.10 C190.60,118.07 197.18,120.07 202.60,121.40 C208.02,122.73 216.27,123.65 219.00,124.10" stroke="#E4BC6C" stroke-width="1.2"/>
<path d="M133.60,108.33 C135.17,107.15 139.93,102.97 143.00,101.24 C146.07,99.51 149.17,98.40 152.00,97.94 C154.83,97.49 157.00,97.81 160.00,98.50 C163.00,99.19 167.00,100.39 170.00,102.10 C173.00,103.82 175.25,106.57 178.00,108.78 C180.75,110.99 182.40,113.36 186.50,115.37 C190.60,117.38 197.18,119.44 202.60,120.83 C208.02,122.22 216.27,123.22 219.00,123.70" stroke="#E4BC6C" stroke-width="0.9" stroke-dasharray="3,1.6" opacity="0.6"/>
<path d="M133.60,117.40 C136.17,117.18 143.75,115.65 149.00,116.10 C154.25,116.55 158.85,118.90 165.10,120.10 C171.35,121.30 177.52,122.77 186.50,123.30 C195.48,123.83 213.58,123.30 219.00,123.30" stroke="#C41E3A" stroke-width="2.3" opacity="0.28"/>
<path d="M133.60,117.40 C136.17,117.18 143.75,115.65 149.00,116.10 C154.25,116.55 158.85,118.90 165.10,120.10 C171.35,121.30 177.52,122.77 186.50,123.30 C195.48,123.83 213.58,123.30 219.00,123.30" stroke="#B82434" stroke-width="1.2"/>
<path d="M133.60,118.80 C135.00,118.25 139.43,116.18 142.00,115.50 C144.57,114.82 146.83,114.62 149.00,114.70 C151.17,114.78 152.77,115.10 155.00,116.00 C157.23,116.90 160.23,118.43 162.40,120.10 C164.57,121.77 166.22,124.22 168.00,126.00 C169.78,127.78 171.10,129.30 173.10,130.80 C175.10,132.30 177.77,134.12 180.00,135.00 C182.23,135.88 184.00,136.05 186.50,136.10 C189.00,136.15 191.87,135.78 195.00,135.30 C198.13,134.82 202.30,133.50 205.30,133.20 C208.30,132.90 210.72,133.20 213.00,133.50 C215.28,133.80 218.00,134.75 219.00,135.00" stroke="#7FBF5F" stroke-width="2.3" opacity="0.28"/>
<path d="M133.60,118.80 C135.00,118.25 139.43,116.18 142.00,115.50 C144.57,114.82 146.83,114.62 149.00,114.70 C151.17,114.78 152.77,115.10 155.00,116.00 C157.23,116.90 160.23,118.43 162.40,120.10 C164.57,121.77 166.22,124.22 168.00,126.00 C169.78,127.78 171.10,129.30 173.10,130.80 C175.10,132.30 177.77,134.12 180.00,135.00 C182.23,135.88 184.00,136.05 186.50,136.10 C189.00,136.15 191.87,135.78 195.00,135.30 C198.13,134.82 202.30,133.50 205.30,133.20 C208.30,132.90 210.72,133.20 213.00,133.50 C215.28,133.80 218.00,134.75 219.00,135.00" stroke="#86C86E" stroke-width="1.2"/>
<path d="M133.60,125.10 C135.73,124.92 142.83,124.02 146.40,124.00 C149.97,123.98 151.88,124.17 155.00,125.00 C158.12,125.83 161.77,127.50 165.10,129.00 C168.43,130.50 171.87,132.58 175.00,134.00 C178.13,135.42 181.07,136.95 183.90,137.50 C186.73,138.05 188.43,138.08 192.00,137.30 C195.57,136.52 201.80,133.38 205.30,132.80 C208.80,132.22 210.72,133.30 213.00,133.80 C215.28,134.30 218.00,135.47 219.00,135.80" stroke="#7030C0" stroke-width="2.3" opacity="0.28"/>
<path d="M133.60,125.10 C135.73,124.92 142.83,124.02 146.40,124.00 C149.97,123.98 151.88,124.17 155.00,125.00 C158.12,125.83 161.77,127.50 165.10,129.00 C168.43,130.50 171.87,132.58 175.00,134.00 C178.13,135.42 181.07,136.95 183.90,137.50 C186.73,138.05 188.43,138.08 192.00,137.30 C195.57,136.52 201.80,133.38 205.30,132.80 C208.80,132.22 210.72,133.30 213.00,133.80 C215.28,134.30 218.00,135.47 219.00,135.80" stroke="#6A36BE" stroke-width="1.2"/>
<path d="M133.60,124.60 C135.73,124.40 142.83,123.47 146.40,123.44 C149.97,123.40 151.88,123.58 155.00,124.40 C158.12,125.22 161.77,126.87 165.10,128.35 C168.43,129.84 171.87,131.90 175.00,133.30 C178.13,134.71 181.07,136.23 183.90,136.76 C186.73,137.30 188.43,137.33 192.00,136.53 C195.57,135.73 201.80,132.56 205.30,131.96 C208.80,131.36 210.72,132.44 213.00,132.93 C215.28,133.42 218.00,134.57 219.00,134.90" stroke="#6A36BE" stroke-width="0.9" stroke-dasharray="3,1.6" opacity="0.6"/>
<path d="M133.60,137.50 C137.07,138.38 147.37,141.15 154.40,142.80 C161.43,144.45 169.55,146.95 175.80,147.40 C182.05,147.85 186.53,146.70 191.90,145.50 C197.27,144.30 203.48,141.08 208.00,140.20 C212.52,139.32 217.17,140.20 219.00,140.20" stroke="#1A1A6E" stroke-width="2.3" opacity="0.28"/>
<path d="M133.60,137.50 C137.07,138.38 147.37,141.15 154.40,142.80 C161.43,144.45 169.55,146.95 175.80,147.40 C182.05,147.85 186.53,146.70 191.90,145.50 C197.27,144.30 203.48,141.08 208.00,140.20 C212.52,139.32 217.17,140.20 219.00,140.20" stroke="#1C1C5A" stroke-width="1.2"/>
<path d="M133.60,136.90 C137.07,137.76 147.37,140.48 154.40,142.10 C161.43,143.72 169.55,146.18 175.80,146.60 C182.05,147.02 186.53,145.85 191.90,144.63 C197.27,143.40 203.48,140.16 208.00,139.25 C212.52,138.35 217.17,139.21 219.00,139.20" stroke="#1C1C5A" stroke-width="0.9" stroke-dasharray="3,1.6" opacity="0.6"/>
</g>
<rect x="134.00" y="97.70" width="83.80" height="51.30" fill="none" stroke="#6a6a6a" stroke-width="1"/>
<line x1="143.20" y1="149.00" x2="143.20" y2="152.20" stroke="#555" stroke-width="0.8"/>
<line x1="166.60" y1="149.00" x2="166.60" y2="152.20" stroke="#555" stroke-width="0.8"/>
<line x1="190.00" y1="149.00" x2="190.00" y2="152.20" stroke="#555" stroke-width="0.8"/>
<line x1="213.40" y1="149.00" x2="213.40" y2="152.20" stroke="#555" stroke-width="0.8"/>
<text x="143.20" y="160.30" font-size="7.3" text-anchor="middle" fill="#111" stroke="#111" stroke-width="0.15">2000</text>
<text x="190.00" y="160.30" font-size="7.3" text-anchor="middle" fill="#111" stroke="#111" stroke-width="0.15">2010</text>
<line x1="130.80" y1="111.00" x2="134.00" y2="111.00" stroke="#555" stroke-width="0.8"/>
<line x1="130.80" y1="124.50" x2="134.00" y2="124.50" stroke="#555" stroke-width="0.8"/>
<line x1="130.80" y1="138.00" x2="134.00" y2="138.00" stroke="#555" stroke-width="0.8"/>
<text x="0" y="0" transform="translate(126.50,111.00) rotate(-90)" font-size="7.3" text-anchor="middle" fill="#111" stroke="#111" stroke-width="0.15">0.04</text>
<text x="0" y="0" transform="translate(126.50,138.00) rotate(-90)" font-size="7.3" text-anchor="middle" fill="#111" stroke="#111" stroke-width="0.15">0.00</text>
<text transform="translate(175.90,96.10) scale(1,1.15)" font-size="7.7" font-weight="bold" text-anchor="middle" fill="#000" stroke="#000" stroke-width="0.12">DEU, 65-69</text>
<clipPath id="c12"><rect x="236.20" y="97.70" width="83.40" height="51.30"/></clipPath>
<g clip-path="url(#c12)" fill="none" stroke-width="1.5" stroke-linejoin="round" stroke-linecap="round">
<path d="M236.00,111.10 C237.45,111.23 241.63,111.77 244.70,111.90 C247.77,112.03 251.17,112.03 254.40,111.90 C257.63,111.77 260.87,111.82 264.10,111.10 C267.33,110.38 271.15,108.67 273.80,107.60 C276.45,106.53 277.85,105.73 280.00,104.70 C282.15,103.67 283.97,102.37 286.70,101.40 C289.43,100.43 293.17,99.32 296.40,98.90 C299.63,98.48 302.87,98.48 306.10,98.90 C309.33,99.32 313.48,100.75 315.80,101.40 C318.12,102.05 319.30,102.57 320.00,102.80" stroke="#D8A53C" stroke-width="2.3" opacity="0.28"/>
<path d="M236.00,111.10 C237.45,111.23 241.63,111.77 244.70,111.90 C247.77,112.03 251.17,112.03 254.40,111.90 C257.63,111.77 260.87,111.82 264.10,111.10 C267.33,110.38 271.15,108.67 273.80,107.60 C276.45,106.53 277.85,105.73 280.00,104.70 C282.15,103.67 283.97,102.37 286.70,101.40 C289.43,100.43 293.17,99.32 296.40,98.90 C299.63,98.48 302.87,98.48 306.10,98.90 C309.33,99.32 313.48,100.75 315.80,101.40 C318.12,102.05 319.30,102.57 320.00,102.80" stroke="#E4BC6C" stroke-width="1.2"/>
<path d="M236.00,108.90 C237.45,109.06 241.63,109.68 244.70,109.88 C247.77,110.08 251.17,110.15 254.40,110.08 C257.63,110.01 260.87,110.12 264.10,109.48 C267.33,108.84 271.15,107.23 273.80,106.25 C276.45,105.27 277.85,104.55 280.00,103.60 C282.15,102.65 283.97,101.43 286.70,100.57 C289.43,99.71 293.17,98.77 296.40,98.46 C299.63,98.14 302.87,98.21 306.10,98.69 C309.33,99.17 313.48,100.65 315.80,101.34 C318.12,102.02 319.30,102.56 320.00,102.80" stroke="#E4BC6C" stroke-width="0.9" stroke-dasharray="3,1.6" opacity="0.6"/>
<path d="M236.00,117.00 C237.45,117.32 241.63,118.27 244.70,118.90 C247.77,119.53 251.17,120.42 254.40,120.80 C257.63,121.18 260.87,121.30 264.10,121.20 C267.33,121.10 271.15,120.58 273.80,120.20 C276.45,119.82 277.85,119.22 280.00,118.90 C282.15,118.58 283.97,118.72 286.70,118.30 C289.43,117.88 293.17,116.57 296.40,116.40 C299.63,116.23 302.87,116.75 306.10,117.30 C309.33,117.85 313.48,119.12 315.80,119.70 C318.12,120.28 319.30,120.62 320.00,120.80" stroke="#C41E3A" stroke-width="2.3" opacity="0.28"/>
<path d="M236.00,117.00 C237.45,117.32 241.63,118.27 244.70,118.90 C247.77,119.53 251.17,120.42 254.40,120.80 C257.63,121.18 260.87,121.30 264.10,121.20 C267.33,121.10 271.15,120.58 273.80,120.20 C276.45,119.82 277.85,119.22 280.00,118.90 C282.15,118.58 283.97,118.72 286.70,118.30 C289.43,117.88 293.17,116.57 296.40,116.40 C299.63,116.23 302.87,116.75 306.10,117.30 C309.33,117.85 313.48,119.12 315.80,119.70 C318.12,120.28 319.30,120.62 320.00,120.80" stroke="#B82434" stroke-width="1.2"/>
<path d="M236.00,120.20 C237.45,120.70 241.63,122.22 244.70,123.20 C247.77,124.18 251.17,125.20 254.40,126.10 C257.63,127.00 260.87,128.60 264.10,128.60 C267.33,128.60 271.15,127.00 273.80,126.10 C276.45,125.20 277.85,124.18 280.00,123.20 C282.15,122.22 283.97,121.18 286.70,120.20 C289.43,119.22 293.17,117.45 296.40,117.30 C299.63,117.15 302.87,118.17 306.10,119.30 C309.33,120.43 313.48,122.97 315.80,124.10 C318.12,125.23 319.30,125.77 320.00,126.10" stroke="#7FBF5F" stroke-width="2.3" opacity="0.28"/>
<path d="M236.00,120.20 C237.45,120.70 241.63,122.22 244.70,123.20 C247.77,124.18 251.17,125.20 254.40,126.10 C257.63,127.00 260.87,128.60 264.10,128.60 C267.33,128.60 271.15,127.00 273.80,126.10 C276.45,125.20 277.85,124.18 280.00,123.20 C282.15,122.22 283.97,121.18 286.70,120.20 C289.43,119.22 293.17,117.45 296.40,117.30 C299.63,117.15 302.87,118.17 306.10,119.30 C309.33,120.43 313.48,122.97 315.80,124.10 C318.12,125.23 319.30,125.77 320.00,126.10" stroke="#86C86E" stroke-width="1.2"/>
<path d="M236.00,125.10 C237.45,125.58 241.63,126.87 244.70,128.00 C247.77,129.13 251.17,130.93 254.40,131.90 C257.63,132.87 260.87,133.80 264.10,133.80 C267.33,133.80 271.15,132.63 273.80,131.90 C276.45,131.17 277.85,130.05 280.00,129.40 C282.15,128.75 283.97,128.47 286.70,128.00 C289.43,127.53 293.17,126.60 296.40,126.60 C299.63,126.60 302.87,127.12 306.10,128.00 C309.33,128.88 313.48,130.93 315.80,131.90 C318.12,132.87 319.30,133.48 320.00,133.80" stroke="#7030C0" stroke-width="2.3" opacity="0.28"/>
<path d="M236.00,125.10 C237.45,125.58 241.63,126.87 244.70,128.00 C247.77,129.13 251.17,130.93 254.40,131.90 C257.63,132.87 260.87,133.80 264.10,133.80 C267.33,133.80 271.15,132.63 273.80,131.90 C276.45,131.17 277.85,130.05 280.00,129.40 C282.15,128.75 283.97,128.47 286.70,128.00 C289.43,127.53 293.17,126.60 296.40,126.60 C299.63,126.60 302.87,127.12 306.10,128.00 C309.33,128.88 313.48,130.93 315.80,131.90 C318.12,132.87 319.30,133.48 320.00,133.80" stroke="#6A36BE" stroke-width="1.2"/>
<path d="M236.00,136.30 C237.45,136.85 241.63,138.40 244.70,139.60 C247.77,140.80 251.17,142.43 254.40,143.50 C257.63,144.57 260.87,145.67 264.10,146.00 C267.33,146.33 271.15,145.70 273.80,145.50 C276.45,145.30 277.85,145.03 280.00,144.80 C282.15,144.57 283.97,144.43 286.70,144.10 C289.43,143.77 293.17,142.82 296.40,142.80 C299.63,142.78 302.87,143.27 306.10,144.00 C309.33,144.73 313.48,146.48 315.80,147.20 C318.12,147.92 319.30,148.12 320.00,148.30" stroke="#1A1A6E" stroke-width="2.3" opacity="0.28"/>
<path d="M236.00,136.30 C237.45,136.85 241.63,138.40 244.70,139.60 C247.77,140.80 251.17,142.43 254.40,143.50 C257.63,144.57 260.87,145.67 264.10,146.00 C267.33,146.33 271.15,145.70 273.80,145.50 C276.45,145.30 277.85,145.03 280.00,144.80 C282.15,144.57 283.97,144.43 286.70,144.10 C289.43,143.77 293.17,142.82 296.40,142.80 C299.63,142.78 302.87,143.27 306.10,144.00 C309.33,144.73 313.48,146.48 315.80,147.20 C318.12,147.92 319.30,148.12 320.00,148.30" stroke="#1C1C5A" stroke-width="1.2"/>
<path d="M236.00,135.70 C237.45,136.25 241.63,137.79 244.70,138.98 C247.77,140.17 251.17,141.80 254.40,142.86 C257.63,143.92 260.87,145.01 264.10,145.33 C267.33,145.66 271.15,145.02 273.80,144.81 C276.45,144.60 277.85,144.33 280.00,144.10 C282.15,143.86 283.97,143.72 286.70,143.38 C289.43,143.04 293.17,142.08 296.40,142.06 C299.63,142.03 302.87,142.51 306.10,143.23 C309.33,143.96 313.48,145.70 315.80,146.41 C318.12,147.12 319.30,147.32 320.00,147.50" stroke="#1C1C5A" stroke-width="0.9" stroke-dasharray="3,1.6" opacity="0.6"/>
</g>
<rect x="236.20" y="97.70" width="83.40" height="51.30" fill="none" stroke="#6a6a6a" stroke-width="1"/>
<line x1="245.20" y1="149.00" x2="245.20" y2="152.20" stroke="#555" stroke-width="0.8"/>
<line x1="268.60" y1="149.00" x2="268.60" y2="152.20" stroke="#555" stroke-width="0.8"/>
<line x1="292.00" y1="149.00" x2="292.00" y2="152.20" stroke="#555" stroke-width="0.8"/>
<line x1="315.40" y1="149.00" x2="315.40" y2="152.20" stroke="#555" stroke-width="0.8"/>
<text x="245.20" y="160.30" font-size="7.3" text-anchor="middle" fill="#111" stroke="#111" stroke-width="0.15">2000</text>
<text x="292.00" y="160.30" font-size="7.3" text-anchor="middle" fill="#111" stroke="#111" stroke-width="0.15">2010</text>
<line x1="233.00" y1="109.80" x2="236.20" y2="109.80" stroke="#555" stroke-width="0.8"/>
<line x1="233.00" y1="124.30" x2="236.20" y2="124.30" stroke="#555" stroke-width="0.8"/>
<line x1="233.00" y1="138.80" x2="236.20" y2="138.80" stroke="#555" stroke-width="0.8"/>
<text x="0" y="0" transform="translate(228.70,109.80) rotate(-90)" font-size="7.3" text-anchor="middle" fill="#111" stroke="#111" stroke-width="0.15">0.04</text>
<text x="0" y="0" transform="translate(228.70,138.80) rotate(-90)" font-size="7.3" text-anchor="middle" fill="#111" stroke="#111" stroke-width="0.15">0.00</text>
<text transform="translate(277.90,96.10) scale(1,1.15)" font-size="7.7" font-weight="bold" text-anchor="middle" fill="#000" stroke="#000" stroke-width="0.12">DEU, 75-79</text>
<clipPath id="c20"><rect x="31.50" y="177.10" width="83.70" height="51.60"/></clipPath>
<g clip-path="url(#c20)" fill="none" stroke-width="1.5" stroke-linejoin="round" stroke-linecap="round">
<path d="M31.50,187.20 C34.65,187.20 44.02,187.13 50.40,187.20 C56.78,187.27 62.97,187.47 69.80,187.60 C76.63,187.73 83.78,187.83 91.40,188.00 C99.02,188.17 111.48,188.50 115.50,188.60" stroke="#D8A53C" stroke-width="2.3" opacity="0.28"/>
<path d="M31.50,187.20 C34.65,187.20 44.02,187.13 50.40,187.20 C56.78,187.27 62.97,187.47 69.80,187.60 C76.63,187.73 83.78,187.83 91.40,188.00 C99.02,188.17 111.48,188.50 115.50,188.60" stroke="#E4BC6C" stroke-width="1.2"/>
<path d="M31.50,227.40 C34.58,227.47 44.92,227.70 50.00,227.80 C55.08,227.90 58.33,228.30 62.00,228.00 C65.67,227.70 68.33,226.67 72.00,226.00 C75.67,225.33 80.33,224.50 84.00,224.00 C87.67,223.50 90.67,223.12 94.00,223.00 C97.33,222.88 100.33,222.87 104.00,223.30 C107.67,223.73 114.00,225.22 116.00,225.60" stroke="#C41E3A" stroke-width="2.3" opacity="0.28"/>
<path d="M31.50,227.40 C34.58,227.47 44.92,227.70 50.00,227.80 C55.08,227.90 58.33,228.30 62.00,228.00 C65.67,227.70 68.33,226.67 72.00,226.00 C75.67,225.33 80.33,224.50 84.00,224.00 C87.67,223.50 90.67,223.12 94.00,223.00 C97.33,222.88 100.33,222.87 104.00,223.30 C107.67,223.73 114.00,225.22 116.00,225.60" stroke="#B82434" stroke-width="1.2"/>
<path d="M31.50,227.39 C34.58,227.42 44.92,227.53 50.00,227.57 C55.08,227.61 58.33,227.97 62.00,227.62 C65.67,227.28 68.33,226.20 72.00,225.50 C75.67,224.79 80.33,223.92 84.00,223.40 C87.67,222.88 90.67,222.52 94.00,222.40 C97.33,222.28 100.33,222.27 104.00,222.70 C107.67,223.13 114.00,224.62 116.00,225.00" stroke="#B82434" stroke-width="0.9" stroke-dasharray="3,1.6" opacity="0.6"/>
<path d="M31.50,197.50 C33.25,197.00 38.92,194.75 42.00,194.50 C45.08,194.25 47.00,195.00 50.00,196.00 C53.00,197.00 57.33,199.92 60.00,200.50 C62.67,201.08 64.00,200.75 66.00,199.50 C68.00,198.25 70.00,195.25 72.00,193.00 C74.00,190.75 76.00,188.17 78.00,186.00 C80.00,183.83 81.67,181.42 84.00,180.00 C86.33,178.58 89.33,177.83 92.00,177.50 C94.67,177.17 97.33,177.25 100.00,178.00 C102.67,178.75 105.33,180.33 108.00,182.00 C110.67,183.67 114.67,187.00 116.00,188.00" stroke="#7FBF5F" stroke-width="2.3" opacity="0.28"/>
<path d="M31.50,197.50 C33.25,197.00 38.92,194.75 42.00,194.50 C45.08,194.25 47.00,195.00 50.00,196.00 C53.00,197.00 57.33,199.92 60.00,200.50 C62.67,201.08 64.00,200.75 66.00,199.50 C68.00,198.25 70.00,195.25 72.00,193.00 C74.00,190.75 76.00,188.17 78.00,186.00 C80.00,183.83 81.67,181.42 84.00,180.00 C86.33,178.58 89.33,177.83 92.00,177.50 C94.67,177.17 97.33,177.25 100.00,178.00 C102.67,178.75 105.33,180.33 108.00,182.00 C110.67,183.67 114.67,187.00 116.00,188.00" stroke="#86C86E" stroke-width="1.2"/>
<path d="M31.50,210.40 C33.25,210.17 38.92,209.13 42.00,209.00 C45.08,208.87 47.00,209.37 50.00,209.60 C53.00,209.83 57.00,210.67 60.00,210.40 C63.00,210.13 65.33,209.23 68.00,208.00 C70.67,206.77 73.33,204.58 76.00,203.00 C78.67,201.42 81.00,199.47 84.00,198.50 C87.00,197.53 90.67,197.12 94.00,197.20 C97.33,197.28 100.33,197.87 104.00,199.00 C107.67,200.13 114.00,203.17 116.00,204.00" stroke="#7030C0" stroke-width="2.3" opacity="0.28"/>
<path d="M31.50,210.40 C33.25,210.17 38.92,209.13 42.00,209.00 C45.08,208.87 47.00,209.37 50.00,209.60 C53.00,209.83 57.00,210.67 60.00,210.40 C63.00,210.13 65.33,209.23 68.00,208.00 C70.67,206.77 73.33,204.58 76.00,203.00 C78.67,201.42 81.00,199.47 84.00,198.50 C87.00,197.53 90.67,197.12 94.00,197.20 C97.33,197.28 100.33,197.87 104.00,199.00 C107.67,200.13 114.00,203.17 116.00,204.00" stroke="#6A36BE" stroke-width="1.2"/>
<path d="M31.50,210.39 C33.25,210.13 38.92,209.00 42.00,208.82 C45.08,208.64 47.00,209.11 50.00,209.29 C53.00,209.47 57.00,210.24 60.00,209.93 C63.00,209.61 65.33,208.67 68.00,207.40 C70.67,206.12 73.33,203.88 76.00,202.27 C78.67,200.65 81.00,198.69 84.00,197.72 C87.00,196.76 90.67,196.38 94.00,196.48 C97.33,196.58 100.33,197.18 104.00,198.33 C107.67,199.49 114.00,202.56 116.00,203.40" stroke="#6A36BE" stroke-width="0.9" stroke-dasharray="3,1.6" opacity="0.6"/>
<path d="M31.50,223.60 C33.25,223.80 38.58,224.30 42.00,224.80 C45.42,225.30 49.00,226.18 52.00,226.60 C55.00,227.02 57.33,227.82 60.00,227.30 C62.67,226.78 65.33,225.13 68.00,223.50 C70.67,221.87 73.33,219.17 76.00,217.50 C78.67,215.83 81.00,214.47 84.00,213.50 C87.00,212.53 90.67,211.82 94.00,211.70 C97.33,211.58 100.33,212.08 104.00,212.80 C107.67,213.52 114.00,215.47 116.00,216.00" stroke="#1A1A6E" stroke-width="2.3" opacity="0.28"/>
<path d="M31.50,223.60 C33.25,223.80 38.58,224.30 42.00,224.80 C45.42,225.30 49.00,226.18 52.00,226.60 C55.00,227.02 57.33,227.82 60.00,227.30 C62.67,226.78 65.33,225.13 68.00,223.50 C70.67,221.87 73.33,219.17 76.00,217.50 C78.67,215.83 81.00,214.47 84.00,213.50 C87.00,212.53 90.67,211.82 94.00,211.70 C97.33,211.58 100.33,212.08 104.00,212.80 C107.67,213.52 114.00,215.47 116.00,216.00" stroke="#1C1C5A" stroke-width="1.2"/>
<path d="M31.50,223.58 C33.25,223.71 38.58,224.01 42.00,224.38 C45.42,224.75 49.00,225.49 52.00,225.79 C55.00,226.09 57.33,226.80 60.00,226.18 C62.67,225.57 65.33,223.76 68.00,222.08 C70.67,220.39 73.33,217.72 76.00,216.07 C78.67,214.41 81.00,213.09 84.00,212.15 C87.00,211.22 90.67,210.54 94.00,210.46 C97.33,210.38 100.33,210.91 104.00,211.67 C107.67,212.43 114.00,214.44 116.00,215.00" stroke="#1C1C5A" stroke-width="0.9" stroke-dasharray="3,1.6" opacity="0.6"/>
</g>
<rect x="31.50" y="177.10" width="83.70" height="51.60" fill="none" stroke="#6a6a6a" stroke-width="1"/>
<line x1="40.30" y1="228.70" x2="40.30" y2="231.90" stroke="#555" stroke-width="0.8"/>
<line x1="63.70" y1="228.70" x2="63.70" y2="231.90" stroke="#555" stroke-width="0.8"/>
<line x1="87.10" y1="228.70" x2="87.10" y2="231.90" stroke="#555" stroke-width="0.8"/>
<line x1="110.50" y1="228.70" x2="110.50" y2="231.90" stroke="#555" stroke-width="0.8"/>
<text x="40.30" y="240.00" font-size="7.3" text-anchor="middle" fill="#111" stroke="#111" stroke-width="0.15">2000</text>
<text x="87.10" y="240.00" font-size="7.3" text-anchor="middle" fill="#111" stroke="#111" stroke-width="0.15">2010</text>
<line x1="28.30" y1="187.40" x2="31.50" y2="187.40" stroke="#555" stroke-width="0.8"/>
<line x1="28.30" y1="199.40" x2="31.50" y2="199.40" stroke="#555" stroke-width="0.8"/>
<line x1="28.30" y1="211.30" x2="31.50" y2="211.30" stroke="#555" stroke-width="0.8"/>
<line x1="28.30" y1="223.30" x2="31.50" y2="223.30" stroke="#555" stroke-width="0.8"/>
<text x="0" y="0" transform="translate(24.00,199.40) rotate(-90)" font-size="7.3" text-anchor="middle" fill="#111" stroke="#111" stroke-width="0.15">0.02</text>
<text x="0" y="0" transform="translate(24.00,223.30) rotate(-90)" font-size="7.3" text-anchor="middle" fill="#111" stroke="#111" stroke-width="0.15">0.00</text>
<text transform="translate(73.35,175.50) scale(1,1.15)" font-size="7.7" font-weight="bold" text-anchor="middle" fill="#000" stroke="#000" stroke-width="0.12">POL, 55-59</text>
<clipPath id="c21"><rect x="134.00" y="177.10" width="83.80" height="51.60"/></clipPath>
<g clip-path="url(#c21)" fill="none" stroke-width="1.5" stroke-linejoin="round" stroke-linecap="round">
<path d="M133.60,178.90 C140.50,178.85 160.93,178.77 175.00,178.60 C189.07,178.43 210.83,178.02 218.00,177.90" stroke="#D8A53C" stroke-width="2.3" opacity="0.28"/>
<path d="M133.60,178.90 C140.50,178.85 160.93,178.77 175.00,178.60 C189.07,178.43 210.83,178.02 218.00,177.90" stroke="#E4BC6C" stroke-width="1.2"/>
<path d="M133.60,219.80 C137.07,219.00 147.37,216.53 154.40,215.00 C161.43,213.47 170.20,211.60 175.80,210.60 C181.40,209.60 184.30,209.02 188.00,209.00 C191.70,208.98 195.17,209.92 198.00,210.50 C200.83,211.08 202.67,211.67 205.00,212.50 C207.33,213.33 209.67,214.58 212.00,215.50 C214.33,216.42 217.83,217.58 219.00,218.00" stroke="#C41E3A" stroke-width="2.3" opacity="0.28"/>
<path d="M133.60,219.80 C137.07,219.00 147.37,216.53 154.40,215.00 C161.43,213.47 170.20,211.60 175.80,210.60 C181.40,209.60 184.30,209.02 188.00,209.00 C191.70,208.98 195.17,209.92 198.00,210.50 C200.83,211.08 202.67,211.67 205.00,212.50 C207.33,213.33 209.67,214.58 212.00,215.50 C214.33,216.42 217.83,217.58 219.00,218.00" stroke="#B82434" stroke-width="1.2"/>
<path d="M133.60,199.60 C135.50,199.72 141.53,200.27 145.00,200.30 C148.47,200.33 151.57,200.52 154.40,199.80 C157.23,199.08 159.77,197.52 162.00,196.00 C164.23,194.48 165.50,192.87 167.80,190.70 C170.10,188.53 173.12,185.07 175.80,183.00 C178.48,180.93 181.53,179.05 183.90,178.30 C186.27,177.55 188.22,177.98 190.00,178.50 C191.78,179.02 192.93,179.98 194.60,181.40 C196.27,182.82 198.22,184.57 200.00,187.00 C201.78,189.43 203.30,192.83 205.30,196.00 C207.30,199.17 209.72,202.75 212.00,206.00 C214.28,209.25 217.83,213.92 219.00,215.50" stroke="#7FBF5F" stroke-width="2.3" opacity="0.28"/>
<path d="M133.60,199.60 C135.50,199.72 141.53,200.27 145.00,200.30 C148.47,200.33 151.57,200.52 154.40,199.80 C157.23,199.08 159.77,197.52 162.00,196.00 C164.23,194.48 165.50,192.87 167.80,190.70 C170.10,188.53 173.12,185.07 175.80,183.00 C178.48,180.93 181.53,179.05 183.90,178.30 C186.27,177.55 188.22,177.98 190.00,178.50 C191.78,179.02 192.93,179.98 194.60,181.40 C196.27,182.82 198.22,184.57 200.00,187.00 C201.78,189.43 203.30,192.83 205.30,196.00 C207.30,199.17 209.72,202.75 212.00,206.00 C214.28,209.25 217.83,213.92 219.00,215.50" stroke="#86C86E" stroke-width="1.2"/>
<path d="M133.60,204.20 C135.50,204.27 141.53,204.58 145.00,204.60 C148.47,204.62 151.07,204.98 154.40,204.30 C157.73,203.62 161.43,201.68 165.00,200.50 C168.57,199.32 172.65,198.03 175.80,197.20 C178.95,196.37 180.77,195.40 183.90,195.50 C187.03,195.60 191.03,195.97 194.60,197.80 C198.17,199.63 202.40,203.97 205.30,206.50 C208.20,209.03 209.72,211.17 212.00,213.00 C214.28,214.83 217.83,216.75 219.00,217.50" stroke="#7030C0" stroke-width="2.3" opacity="0.28"/>
<path d="M133.60,204.20 C135.50,204.27 141.53,204.58 145.00,204.60 C148.47,204.62 151.07,204.98 154.40,204.30 C157.73,203.62 161.43,201.68 165.00,200.50 C168.57,199.32 172.65,198.03 175.80,197.20 C178.95,196.37 180.77,195.40 183.90,195.50 C187.03,195.60 191.03,195.97 194.60,197.80 C198.17,199.63 202.40,203.97 205.30,206.50 C208.20,209.03 209.72,211.17 212.00,213.00 C214.28,214.83 217.83,216.75 219.00,217.50" stroke="#6A36BE" stroke-width="1.2"/>
<path d="M133.60,203.60 C135.50,203.67 141.53,203.98 145.00,204.00 C148.47,204.02 151.07,204.38 154.40,203.70 C157.73,203.02 161.43,201.08 165.00,199.90 C168.57,198.72 172.65,197.43 175.80,196.60 C178.95,195.77 180.77,194.80 183.90,194.90 C187.03,195.00 191.03,195.37 194.60,197.20 C198.17,199.03 202.40,203.37 205.30,205.90 C208.20,208.43 209.72,210.57 212.00,212.40 C214.28,214.23 217.83,216.15 219.00,216.90" stroke="#6A36BE" stroke-width="0.9" stroke-dasharray="3,1.6" opacity="0.6"/>
<path d="M133.60,206.80 C135.28,207.50 140.23,209.58 143.70,211.00 C147.17,212.42 151.35,214.53 154.40,215.30 C157.45,216.07 158.43,215.78 162.00,215.60 C165.57,215.42 172.15,214.38 175.80,214.20 C179.45,214.02 180.77,213.87 183.90,214.50 C187.03,215.13 191.03,216.50 194.60,218.00 C198.17,219.50 202.40,222.08 205.30,223.50 C208.20,224.92 209.72,225.67 212.00,226.50 C214.28,227.33 217.83,228.17 219.00,228.50" stroke="#1A1A6E" stroke-width="2.3" opacity="0.28"/>
<path d="M133.60,206.80 C135.28,207.50 140.23,209.58 143.70,211.00 C147.17,212.42 151.35,214.53 154.40,215.30 C157.45,216.07 158.43,215.78 162.00,215.60 C165.57,215.42 172.15,214.38 175.80,214.20 C179.45,214.02 180.77,213.87 183.90,214.50 C187.03,215.13 191.03,216.50 194.60,218.00 C198.17,219.50 202.40,222.08 205.30,223.50 C208.20,224.92 209.72,225.67 212.00,226.50 C214.28,227.33 217.83,228.17 219.00,228.50" stroke="#1C1C5A" stroke-width="1.2"/>
<path d="M133.60,205.62 C135.28,206.36 140.23,208.57 143.70,210.08 C147.17,211.58 151.35,213.82 154.40,214.65 C157.45,215.49 158.43,215.26 162.00,215.09 C165.57,214.92 172.15,213.82 175.80,213.62 C179.45,213.42 180.77,213.26 183.90,213.88 C187.03,214.50 191.03,215.84 194.60,217.32 C198.17,218.81 202.40,221.37 205.30,222.77 C208.20,224.17 209.72,224.91 212.00,225.74 C214.28,226.56 217.83,227.37 219.00,227.70" stroke="#1C1C5A" stroke-width="0.9" stroke-dasharray="3,1.6" opacity="0.6"/>
</g>
<rect x="134.00" y="177.10" width="83.80" height="51.60" fill="none" stroke="#6a6a6a" stroke-width="1"/>
<line x1="143.20" y1="228.70" x2="143.20" y2="231.90" stroke="#555" stroke-width="0.8"/>
<line x1="166.60" y1="228.70" x2="166.60" y2="231.90" stroke="#555" stroke-width="0.8"/>
<line x1="190.00" y1="228.70" x2="190.00" y2="231.90" stroke="#555" stroke-width="0.8"/>
<line x1="213.40" y1="228.70" x2="213.40" y2="231.90" stroke="#555" stroke-width="0.8"/>
<text x="143.20" y="240.00" font-size="7.3" text-anchor="middle" fill="#111" stroke="#111" stroke-width="0.15">2000</text>
<text x="190.00" y="240.00" font-size="7.3" text-anchor="middle" fill="#111" stroke="#111" stroke-width="0.15">2010</text>
<line x1="130.80" y1="188.40" x2="134.00" y2="188.40" stroke="#555" stroke-width="0.8"/>
<line x1="130.80" y1="199.00" x2="134.00" y2="199.00" stroke="#555" stroke-width="0.8"/>
<line x1="130.80" y1="209.60" x2="134.00" y2="209.60" stroke="#555" stroke-width="0.8"/>
<line x1="130.80" y1="220.20" x2="134.00" y2="220.20" stroke="#555" stroke-width="0.8"/>
<text x="0" y="0" transform="translate(126.50,188.40) rotate(-90)" font-size="7.3" text-anchor="middle" fill="#111" stroke="#111" stroke-width="0.15">0.02</text>
<text x="0" y="0" transform="translate(126.50,220.20) rotate(-90)" font-size="7.3" text-anchor="middle" fill="#111" stroke="#111" stroke-width="0.15">-0.01</text>
<text transform="translate(175.90,175.50) scale(1,1.15)" font-size="7.7" font-weight="bold" text-anchor="middle" fill="#000" stroke="#000" stroke-width="0.12">POL, 65-69</text>
<clipPath id="c22"><rect x="236.20" y="177.10" width="83.40" height="51.60"/></clipPath>
<g clip-path="url(#c22)" fill="none" stroke-width="1.5" stroke-linejoin="round" stroke-linecap="round">
<path d="M236.00,179.20 C240.00,179.20 251.00,179.32 260.00,179.20 C269.00,179.08 280.00,178.82 290.00,178.50 C300.00,178.18 315.00,177.50 320.00,177.30" stroke="#D8A53C" stroke-width="2.3" opacity="0.28"/>
<path d="M236.00,179.20 C240.00,179.20 251.00,179.32 260.00,179.20 C269.00,179.08 280.00,178.82 290.00,178.50 C300.00,178.18 315.00,177.50 320.00,177.30" stroke="#E4BC6C" stroke-width="1.2"/>
<path d="M236.00,222.00 C238.33,221.90 244.80,222.37 250.00,221.40 C255.20,220.43 260.53,218.37 267.20,216.20 C273.87,214.03 283.70,209.63 290.00,208.40 C296.30,207.17 301.05,208.38 305.00,208.80 C308.95,209.22 311.20,209.98 313.70,210.90 C316.20,211.82 318.95,213.73 320.00,214.30" stroke="#C41E3A" stroke-width="2.3" opacity="0.28"/>
<path d="M236.00,222.00 C238.33,221.90 244.80,222.37 250.00,221.40 C255.20,220.43 260.53,218.37 267.20,216.20 C273.87,214.03 283.70,209.63 290.00,208.40 C296.30,207.17 301.05,208.38 305.00,208.80 C308.95,209.22 311.20,209.98 313.70,210.90 C316.20,211.82 318.95,213.73 320.00,214.30" stroke="#B82434" stroke-width="1.2"/>
<path d="M236.00,224.20 C238.07,224.13 245.73,224.17 248.40,223.80 C251.07,223.43 250.87,222.98 252.00,222.00 C253.13,221.02 253.82,219.73 255.20,217.90 C256.58,216.07 258.30,213.58 260.30,211.00 C262.30,208.42 265.18,204.83 267.20,202.40 C269.22,199.97 270.67,198.27 272.40,196.40 C274.13,194.53 275.58,192.78 277.60,191.20 C279.62,189.62 282.23,187.87 284.50,186.90 C286.77,185.93 288.95,185.30 291.20,185.40 C293.45,185.50 295.70,185.52 298.00,187.50 C300.30,189.48 302.38,193.75 305.00,197.30 C307.62,200.85 311.20,205.93 313.70,208.80 C316.20,211.67 318.95,213.55 320.00,214.50" stroke="#7FBF5F" stroke-width="2.3" opacity="0.28"/>
<path d="M236.00,224.20 C238.07,224.13 245.73,224.17 248.40,223.80 C251.07,223.43 250.87,222.98 252.00,222.00 C253.13,221.02 253.82,219.73 255.20,217.90 C256.58,216.07 258.30,213.58 260.30,211.00 C262.30,208.42 265.18,204.83 267.20,202.40 C269.22,199.97 270.67,198.27 272.40,196.40 C274.13,194.53 275.58,192.78 277.60,191.20 C279.62,189.62 282.23,187.87 284.50,186.90 C286.77,185.93 288.95,185.30 291.20,185.40 C293.45,185.50 295.70,185.52 298.00,187.50 C300.30,189.48 302.38,193.75 305.00,197.30 C307.62,200.85 311.20,205.93 313.70,208.80 C316.20,211.67 318.95,213.55 320.00,214.50" stroke="#86C86E" stroke-width="1.2"/>
<path d="M236.00,209.50 C237.33,209.83 241.67,211.25 244.00,211.50 C246.33,211.75 248.00,211.58 250.00,211.00 C252.00,210.42 254.28,208.80 256.00,208.00 C257.72,207.20 257.85,207.57 260.30,206.20 C262.75,204.83 267.27,201.58 270.70,199.80 C274.13,198.02 277.68,196.35 280.90,195.50 C284.12,194.65 287.32,194.57 290.00,194.70 C292.68,194.83 294.50,194.80 297.00,196.30 C299.50,197.80 302.22,201.38 305.00,203.70 C307.78,206.02 311.20,208.48 313.70,210.20 C316.20,211.92 318.95,213.37 320.00,214.00" stroke="#7030C0" stroke-width="2.3" opacity="0.28"/>
<path d="M236.00,209.50 C237.33,209.83 241.67,211.25 244.00,211.50 C246.33,211.75 248.00,211.58 250.00,211.00 C252.00,210.42 254.28,208.80 256.00,208.00 C257.72,207.20 257.85,207.57 260.30,206.20 C262.75,204.83 267.27,201.58 270.70,199.80 C274.13,198.02 277.68,196.35 280.90,195.50 C284.12,194.65 287.32,194.57 290.00,194.70 C292.68,194.83 294.50,194.80 297.00,196.30 C299.50,197.80 302.22,201.38 305.00,203.70 C307.78,206.02 311.20,208.48 313.70,210.20 C316.20,211.92 318.95,213.37 320.00,214.00" stroke="#6A36BE" stroke-width="1.2"/>
<path d="M236.00,208.70 C237.33,209.03 241.67,210.45 244.00,210.70 C246.33,210.95 248.00,210.78 250.00,210.20 C252.00,209.62 254.28,208.00 256.00,207.20 C257.72,206.40 257.85,206.77 260.30,205.40 C262.75,204.03 267.27,200.78 270.70,199.00 C274.13,197.22 277.68,195.55 280.90,194.70 C284.12,193.85 287.32,193.77 290.00,193.90 C292.68,194.03 294.50,194.00 297.00,195.50 C299.50,197.00 302.22,200.58 305.00,202.90 C307.78,205.22 311.20,207.68 313.70,209.40 C316.20,211.12 318.95,212.57 320.00,213.20" stroke="#6A36BE" stroke-width="0.9" stroke-dasharray="3,1.6" opacity="0.6"/>
<path d="M236.00,204.90 C238.07,205.12 245.07,206.30 248.40,206.20 C251.73,206.10 253.73,204.92 256.00,204.30 C258.27,203.68 259.67,203.10 262.00,202.50 C264.33,201.90 267.00,201.40 270.00,200.70 C273.00,200.00 277.33,198.58 280.00,198.30 C282.67,198.02 284.33,198.55 286.00,199.00 C287.67,199.45 288.17,199.92 290.00,201.00 C291.83,202.08 294.50,203.25 297.00,205.50 C299.50,207.75 302.67,212.08 305.00,214.50 C307.33,216.92 308.50,217.72 311.00,220.00 C313.50,222.28 318.50,226.83 320.00,228.20" stroke="#1A1A6E" stroke-width="2.3" opacity="0.28"/>
<path d="M236.00,204.90 C238.07,205.12 245.07,206.30 248.40,206.20 C251.73,206.10 253.73,204.92 256.00,204.30 C258.27,203.68 259.67,203.10 262.00,202.50 C264.33,201.90 267.00,201.40 270.00,200.70 C273.00,200.00 277.33,198.58 280.00,198.30 C282.67,198.02 284.33,198.55 286.00,199.00 C287.67,199.45 288.17,199.92 290.00,201.00 C291.83,202.08 294.50,203.25 297.00,205.50 C299.50,207.75 302.67,212.08 305.00,214.50 C307.33,216.92 308.50,217.72 311.00,220.00 C313.50,222.28 318.50,226.83 320.00,228.20" stroke="#1C1C5A" stroke-width="1.2"/>
<path d="M236.00,204.10 C238.07,204.31 245.07,205.48 248.40,205.37 C251.73,205.26 253.73,204.07 256.00,203.45 C258.27,202.83 259.67,202.24 262.00,201.64 C264.33,201.03 267.00,200.53 270.00,199.82 C273.00,199.11 277.33,197.68 280.00,197.40 C282.67,197.11 284.33,197.63 286.00,198.08 C287.67,198.53 288.17,198.99 290.00,200.07 C291.83,201.15 294.50,202.31 297.00,204.55 C299.50,206.80 302.67,211.12 305.00,213.54 C307.33,215.95 308.50,216.74 311.00,219.02 C313.50,221.30 318.50,225.84 320.00,227.20" stroke="#1C1C5A" stroke-width="0.9" stroke-dasharray="3,1.6" opacity="0.6"/>
</g>
<rect x="236.20" y="177.10" width="83.40" height="51.60" fill="none" stroke="#6a6a6a" stroke-width="1"/>
<line x1="245.20" y1="228.70" x2="245.20" y2="231.90" stroke="#555" stroke-width="0.8"/>
<line x1="268.60" y1="228.70" x2="268.60" y2="231.90" stroke="#555" stroke-width="0.8"/>
<line x1="292.00" y1="228.70" x2="292.00" y2="231.90" stroke="#555" stroke-width="0.8"/>
<line x1="315.40" y1="228.70" x2="315.40" y2="231.90" stroke="#555" stroke-width="0.8"/>
<text x="245.20" y="240.00" font-size="7.3" text-anchor="middle" fill="#111" stroke="#111" stroke-width="0.15">2000</text>
<text x="292.00" y="240.00" font-size="7.3" text-anchor="middle" fill="#111" stroke="#111" stroke-width="0.15">2010</text>
<line x1="233.00" y1="187.60" x2="236.20" y2="187.60" stroke="#555" stroke-width="0.8"/>
<line x1="233.00" y1="196.40" x2="236.20" y2="196.40" stroke="#555" stroke-width="0.8"/>
<line x1="233.00" y1="205.30" x2="236.20" y2="205.30" stroke="#555" stroke-width="0.8"/>
<line x1="233.00" y1="214.20" x2="236.20" y2="214.20" stroke="#555" stroke-width="0.8"/>
<line x1="233.00" y1="223.10" x2="236.20" y2="223.10" stroke="#555" stroke-width="0.8"/>
<text x="0" y="0" transform="translate(228.70,196.40) rotate(-90)" font-size="7.3" text-anchor="middle" fill="#111" stroke="#111" stroke-width="0.15">0.01</text>
<text x="0" y="0" transform="translate(228.70,223.10) rotate(-90)" font-size="7.3" text-anchor="middle" fill="#111" stroke="#111" stroke-width="0.15">-0.02</text>
<text transform="translate(277.90,175.50) scale(1,1.15)" font-size="7.7" font-weight="bold" text-anchor="middle" fill="#000" stroke="#000" stroke-width="0.12">POL, 75-79</text>
<text transform="translate(11.6,128) rotate(-90)" font-size="10.35" text-anchor="middle" fill="#000" stroke="#000" stroke-width="0.25">Predicted improvement rates</text>
<text x="166.5" y="252.7" font-size="10.3" text-anchor="middle" fill="#000" stroke="#000" stroke-width="0.25">Years</text>
<text transform="translate(11.8,264.3) scale(1,1.12)" font-size="7.7" fill="#000" stroke="#000" stroke-width="0.2">* MOGP models:</text>
<text transform="translate(11.8,274.2) scale(1,1.12)" font-size="7.7" fill="#000" stroke="#000" stroke-width="0.2">* Cancers:</text>
<line x1="81.1" y1="260.5" x2="95.4" y2="260.5" stroke="#111" stroke-width="1.4"/>
<text transform="translate(100,264.5) scale(1,1.12)" font-size="7.7" fill="#000" stroke="#000" stroke-width="0.2">ICM</text>
<line x1="123.8" y1="260.9" x2="138" y2="260.9" stroke="#111" stroke-width="1.4" stroke-dasharray="7.2,4"/>
<text transform="translate(142.8,264.5) scale(1,1.12)" font-size="7.7" fill="#000" stroke="#000" stroke-width="0.2">SLFM</text>
<rect x="72.95" y="268.4" width="4.1" height="4.1" fill="#D8A53C"/>
<text transform="translate(80.00,274.2) scale(1,1.12)" font-size="7.7" fill="#000" stroke="#000" stroke-width="0.2">STM</text>
<rect x="102.75" y="268.4" width="4.1" height="4.1" fill="#C41E3A"/>
<text transform="translate(110.30,274.2) scale(1,1.12)" font-size="7.7" fill="#000" stroke="#000" stroke-width="0.2">COL</text>
<rect x="134.75" y="268.4" width="4.1" height="4.1" fill="#1A1A6E"/>
<text transform="translate(141.70,274.2) scale(1,1.12)" font-size="7.7" fill="#000" stroke="#000" stroke-width="0.2">PAN</text>
<rect x="165.65" y="268.4" width="4.1" height="4.1" fill="#7FBF5F"/>
<text transform="translate(173.10,274.2) scale(1,1.12)" font-size="7.7" fill="#000" stroke="#000" stroke-width="0.2">LUN</text>
<rect x="205.65" y="268.4" width="4.1" height="4.1" fill="#7030C0"/>
<text transform="translate(213.50,274.2) scale(1,1.12)" font-size="7.7" fill="#000" stroke="#000" stroke-width="0.2">RMN</text>
</svg></body></html>
